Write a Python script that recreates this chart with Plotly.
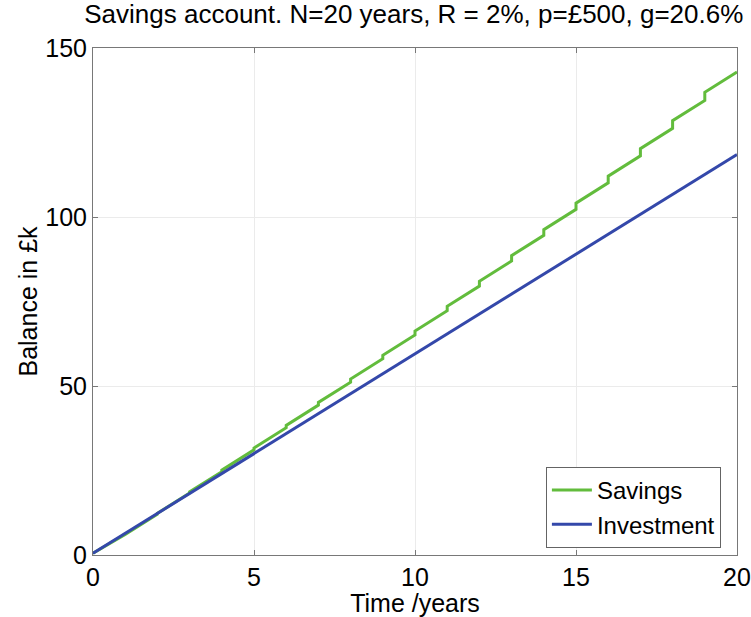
import plotly.graph_objects as go

# Savings balance (£k) at each year end: before and after the annual interest credit
years = list(range(1, 21))
savings_start = 0.5
savings_before = [6.00, 12.11, 18.33, 24.66, 31.10, 37.66, 44.34, 51.14, 58.06, 65.10,
                  72.27, 79.57, 87.00, 94.57, 102.27, 110.11, 118.09, 126.22, 134.49, 142.91]
savings_after = [6.11, 12.33, 18.66, 25.10, 31.66, 38.34, 45.14, 52.06, 59.10, 66.27,
                 73.57, 81.00, 88.57, 96.27, 104.11, 112.09, 120.22, 128.49, 136.91]

# Investment balance (£k) at each year
inv_years = list(range(0, 21))
investment = [0.5, 6.4, 12.3, 18.2, 24.1, 30.0, 35.9, 41.8, 47.7, 53.6, 59.5,
              65.4, 71.3, 77.2, 83.1, 89.0, 94.9, 100.8, 106.7, 112.6, 118.5]

sx, sy = [0], [savings_start]
for i, k in enumerate(years):
    sx.append(k); sy.append(savings_before[i])
    if i < len(savings_after):
        sx.append(k); sy.append(savings_after[i])

FONT = "Liberation Sans, Arial, sans-serif"
FS = 25
fig = go.Figure()
fig.add_trace(go.Scatter(x=sx, y=sy, mode="lines", name="Savings",
                         line=dict(color="rgb(98,188,60)", width=3)))
fig.add_trace(go.Scatter(x=inv_years, y=investment, mode="lines", name="Investment",
                         line=dict(color="rgb(52,72,170)", width=3)))

axis_common = dict(showline=True, linecolor="rgb(120,120,120)", linewidth=1, mirror="ticks",
                   ticks="inside", ticklen=5, tickcolor="rgb(120,120,120)",
                   showgrid=True, gridcolor="rgb(235,235,235)", gridwidth=1,
                   zeroline=False, automargin=False,
                   tickfont=dict(size=FS, color="black", family=FONT))
fig.update_xaxes(range=[0, 20], tickvals=[0, 5, 10, 15, 20],
                 title=dict(text="Time /years", font=dict(size=FS, color="black", family=FONT), standoff=0),
                 **axis_common)
fig.update_yaxes(range=[0, 150], tickvals=[0, 50, 100, 150],
                 title=dict(text="Balance in £k", font=dict(size=FS, color="black", family=FONT), standoff=0),
                 **axis_common)

fig.update_layout(
    width=751, height=617,
    margin=dict(l=93, r=14, t=48, b=62),
    paper_bgcolor="white", plot_bgcolor="white",
    title=dict(text="Savings account. N=20 years, R = 2%, p=£500, g=20.6%",
               x=0.551, xanchor="center", y=1 - 14 / 617, yanchor="middle",
               font=dict(size=FS + 1, color="black", family=FONT)),
    legend=dict(x=0.975, y=0.0138, xanchor="right", yanchor="bottom",
                bgcolor="white", bordercolor="rgb(100,100,100)", borderwidth=1,
                font=dict(size=24, color="black", family=FONT),
                tracegroupgap=0, itemwidth=40),
    showlegend=True,
)
fig.write_html("out.html", config={"displayModeBar": False},
               post_script="document.body.style.margin='0';")
